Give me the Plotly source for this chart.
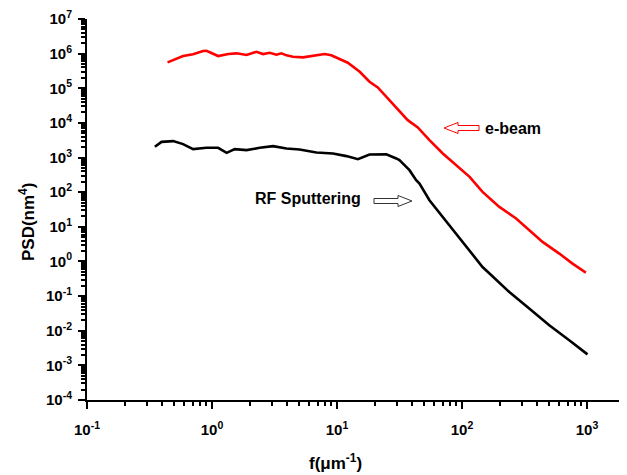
import plotly.graph_objects as go

# ---- data ----
ebeam_f = [0.441, 0.587, 0.706, 0.849, 0.904, 0.991, 1.12, 1.35, 1.57, 1.89, 2.27, 2.56,
           2.89, 3.28, 3.59, 3.94, 4.44, 5.34, 6.42, 7.96, 9.0, 10.5, 12.2, 15.2, 18.2,
           21.2, 25.5, 29.8, 36.8, 44.3, 54.9, 70.2, 89.8, 115, 146, 199, 271, 345, 441,
           600, 766, 979]
ebeam_psd = [5.61e5, 8.53e5, 9.55e5, 1.19e6, 1.21e6, 1.02e6, 8.53e5, 9.73e5, 1.02e6,
             9.12e5, 1.13e6, 9.73e5, 1.06e6, 9.29e5, 1.02e6, 8.93e5, 8.13e5, 7.82e5,
             8.69e5, 9.73e5, 8.93e5, 6.84e5, 5.46e5, 3.0e5, 1.54e5, 1.06e5, 5.1e4, 2.62e4,
             1.2e4, 7.41e3, 3.18e3, 1.31e3, 603, 277, 102, 37.6, 17.4, 7.98, 3.66, 1.69,
             0.869, 0.478]

rf_f = [0.349, 0.395, 0.489, 0.587, 0.706, 0.904, 1.12, 1.31, 1.52, 1.89, 2.41, 3.08,
        3.94, 5.02, 6.84, 9.28, 11.9, 14.7, 18.2, 24.8, 29.8, 31.6, 35.8, 38.0, 43.0,
        45.7, 54.9, 70.2, 89.8, 122, 146, 166, 239, 345, 499, 721, 1009]
rf_psd = [2.04e3, 2.84e3, 2.98e3, 2.44e3, 1.75e3, 1.91e3, 1.91e3, 1.37e3, 1.75e3, 1.64e3,
          1.91e3, 2.13e3, 1.83e3, 1.71e3, 1.40e3, 1.31e3, 1.10e3, 899, 1.23e3, 1.25e3,
          942, 841, 538, 432, 222, 178, 58.7, 19.3, 6.4, 1.51, 0.69, 0.447, 0.131, 0.0436,
          0.0143, 0.00528, 0.00208]

x_tick_vals = [0.1, 1, 10, 100, 1000]
x_tick_text = ["10<sup>-1</sup>", "10<sup>0</sup>", "10<sup>1</sup>", "10<sup>2</sup>", "10<sup>3</sup>"]
y_exps = list(range(-4, 8))
y_tick_vals = [10.0 ** e for e in y_exps]
y_tick_text = ["10<sup>%d</sup>" % e for e in y_exps]

series_names = ["e-beam", "RF Sputtering"]

# ---- layout geometry (pixels); page body has an 8px default margin ----
OFF = 8
W, H = 619, 467
ML, MR, MT, MB = 79, 0, 11, 75
PW, PH = W - ML - MR, H - MT - MB


def px(X):
    return (X - OFF - ML) / PW


def py(Y):
    return (H - MB - (Y - OFF)) / PH


FONT = "Liberation Sans, Arial, sans-serif"

fig = go.Figure()
fig.add_trace(go.Scatter(x=ebeam_f, y=ebeam_psd, mode="lines", name=series_names[0],
                         line=dict(color="#ff0000", width=2.6)))
fig.add_trace(go.Scatter(x=rf_f, y=rf_psd, mode="lines", name=series_names[1],
                         line=dict(color="#000000", width=2.6)))

minor_x = [m * 10.0 ** e for e in range(-1, 4) for m in range(2, 10)]
minor_y = [m * 10.0 ** e for e in range(-4, 7) for m in range(2, 10)]

fig.update_xaxes(type="log", range=[-1, 3.32], showgrid=False, zeroline=False,
                 automargin=False, ticklabeloverflow="allow",
                 showline=True, linecolor="black", linewidth=2,
                 tickmode="array", tickvals=x_tick_vals, ticktext=x_tick_text,
                 ticks="outside", ticklen=7, tickwidth=2, tickcolor="black",
                 ticklabelstandoff=8,
                 minor=dict(tickmode="array", tickvals=minor_x, ticks="outside",
                            ticklen=4, tickwidth=1.5, tickcolor="black", showgrid=False),
                 tickfont=dict(family=FONT, size=15, color="black", weight="bold"))
fig.update_yaxes(type="log", range=[-4, 7], showgrid=False, zeroline=False,
                 automargin=False, ticklabeloverflow="allow",
                 showline=True, linecolor="black", linewidth=2,
                 tickmode="array", tickvals=y_tick_vals, ticktext=y_tick_text,
                 ticks="outside", ticklen=7, tickwidth=2, tickcolor="black",
                 ticklabelstandoff=3,
                 minor=dict(tickmode="array", tickvals=minor_y, ticks="outside",
                            ticklen=4, tickwidth=1.5, tickcolor="black", showgrid=False),
                 tickfont=dict(family=FONT, size=15, color="black", weight="bold"))

annotations = [
    dict(text="<b>f(μm<sup>-1</sup>)</b>", x=px(335), y=py(462), xref="paper", yref="paper",
         xanchor="center", yanchor="middle",
         showarrow=False, font=dict(family=FONT, size=17, color="black")),
    dict(text="<b>PSD(nm<sup>4</sup>)</b>", x=px(27), y=py(222), xref="paper", yref="paper",
         xanchor="center", yanchor="middle",
         showarrow=False, textangle=-90, font=dict(family=FONT, size=17, color="black")),
    dict(text="<b>e-beam</b>", x=px(483), y=py(128), xref="paper", yref="paper",
         xanchor="left", yanchor="middle", showarrow=False,
         font=dict(family=FONT, size=16, color="black")),
    dict(text="<b>RF Sputtering</b>", x=px(253), y=py(198), xref="paper", yref="paper",
         xanchor="left", yanchor="middle", showarrow=False,
         font=dict(family=FONT, size=16, color="black")),
]


def hollow_arrow(tip, base, end, yc, head=5.5, shaft=2.5):
    pts = [(tip, yc), (base, yc - head), (base, yc - shaft), (end, yc - shaft),
           (end, yc + shaft), (base, yc + shaft), (base, yc + head)]
    return "M " + " L ".join("%.5f,%.5f" % (px(a), py(b)) for a, b in pts) + " Z"


shapes = [
    dict(type="path", xref="paper", yref="paper", path=hollow_arrow(444, 458, 479, 128),
         line=dict(color="#ff0000", width=1), fillcolor="white"),
    dict(type="path", xref="paper", yref="paper", path=hollow_arrow(412, 398, 374, 201),
         line=dict(color="#333333", width=1), fillcolor="white"),
]

fig.update_layout(width=W, height=H, margin=dict(l=ML, r=MR, t=MT, b=MB),
                  plot_bgcolor="white", paper_bgcolor="white", showlegend=False,
                  annotations=annotations, shapes=shapes,
                  font=dict(family=FONT, color="black"))

fig.write_html("out.html")
